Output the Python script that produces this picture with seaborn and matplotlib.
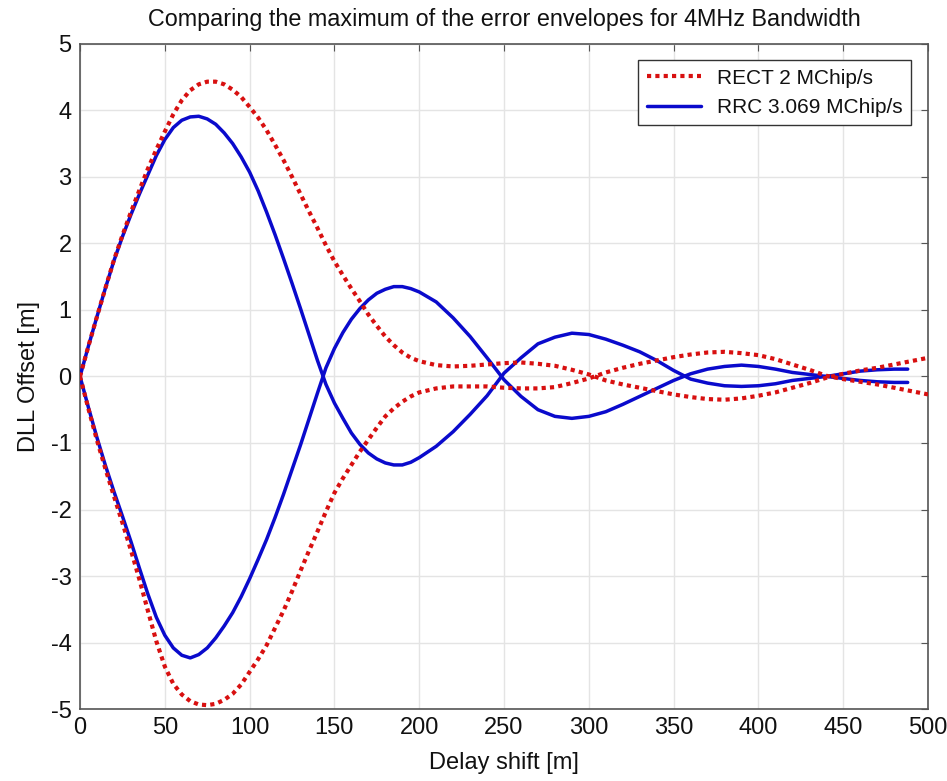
import matplotlib
matplotlib.use("Agg")
import matplotlib.pyplot as plt
import seaborn as sns

# Delay shift grid [m]: 5 m steps where the curves bend a lot, 10 m after
x_rect = list(range(0, 200, 5)) + list(range(200, 501, 10))
x_rrc = list(range(0, 200, 5)) + list(range(200, 481, 10)) + [488]

# RECT 2 MChip/s envelopes
rect_upper = [0.00, 0.46, 0.90, 1.33, 1.75, 2.12, 2.47, 2.80, 3.12, 3.41,
              3.68, 3.94, 4.15, 4.30, 4.39, 4.43, 4.43, 4.39, 4.31, 4.20,
              4.05, 3.89, 3.70, 3.48, 3.25, 3.00, 2.74, 2.48, 2.23, 1.97,
              1.73, 1.52, 1.32, 1.13, 0.93, 0.76, 0.60, 0.47, 0.36, 0.28,
              0.23, 0.17, 0.15, 0.16, 0.18, 0.20, 0.21, 0.19, 0.16, 0.10,
              0.03, -0.06, -0.12, -0.17, -0.22, -0.27, -0.31, -0.34, -0.35, -0.33,
              -0.29, -0.24, -0.17, -0.10, -0.02, 0.04, 0.09, 0.13, 0.18, 0.23,
              0.28]
rect_lower = [0.00, -0.49, -0.96, -1.39, -1.80, -2.20, -2.61, -3.05, -3.52, -3.98,
              -4.36, -4.62, -4.78, -4.88, -4.93, -4.94, -4.92, -4.86, -4.77, -4.63,
              -4.44, -4.25, -4.04, -3.78, -3.52, -3.23, -2.92, -2.62, -2.33, -2.03,
              -1.75, -1.53, -1.33, -1.13, -0.95, -0.77, -0.60, -0.48, -0.38, -0.30,
              -0.24, -0.18, -0.15, -0.15, -0.15, -0.17, -0.18, -0.18, -0.16, -0.10,
              -0.03, 0.06, 0.13, 0.19, 0.24, 0.29, 0.33, 0.36, 0.37, 0.35,
              0.32, 0.26, 0.18, 0.10, 0.01, -0.04, -0.08, -0.12, -0.17, -0.22,
              -0.27]

# RRC 3.069 MChip/s envelopes
rrc_upper = [0.00, 0.46, 0.90, 1.33, 1.74, 2.10, 2.43, 2.74, 3.03, 3.32,
             3.56, 3.74, 3.85, 3.90, 3.91, 3.87, 3.79, 3.66, 3.50, 3.30,
             3.07, 2.79, 2.47, 2.13, 1.77, 1.40, 1.02, 0.63, 0.24, -0.12,
             -0.40, -0.63, -0.85, -1.02, -1.15, -1.24, -1.30, -1.33, -1.33, -1.29,
             -1.22, -1.05, -0.83, -0.57, -0.29, 0.05, 0.28, 0.49, 0.59, 0.65,
             0.63, 0.56, 0.47, 0.37, 0.24, 0.09, -0.04, -0.10, -0.14, -0.15,
             -0.14, -0.11, -0.06, -0.03, 0.00, 0.04, 0.08, 0.10, 0.11, 0.11]
rrc_lower = [0.00, -0.47, -0.92, -1.34, -1.73, -2.10, -2.48, -2.88, -3.27, -3.62,
             -3.89, -4.08, -4.19, -4.23, -4.18, -4.08, -3.93, -3.75, -3.55, -3.31,
             -3.04, -2.75, -2.45, -2.12, -1.77, -1.40, -1.03, -0.64, -0.25, 0.13,
             0.42, 0.66, 0.86, 1.02, 1.15, 1.25, 1.31, 1.35, 1.35, 1.32,
             1.27, 1.12, 0.88, 0.60, 0.28, -0.05, -0.30, -0.50, -0.60, -0.63,
             -0.60, -0.53, -0.42, -0.30, -0.18, -0.06, 0.04, 0.11, 0.15, 0.17,
             0.15, 0.11, 0.06, 0.03, 0.00, -0.03, -0.06, -0.08, -0.09, -0.09]

sns.set_style("whitegrid")
plt.rcParams['font.family'] = ['Liberation Sans', 'DejaVu Sans']
plt.rcParams['axes.unicode_minus'] = False

fig = plt.figure(figsize=(9.47, 7.81), dpi=100)
ax = fig.add_axes([0.0845, 0.092, 0.8955, 0.852])

red = '#d81010'
blue = '#0a0acc'

# red dotted lines sit on top of the blue ones
sns.lineplot(x=x_rect, y=rect_upper, ax=ax, color=red, lw=3,
             linestyle=(0, (1, 1)), label='RECT 2 MChip/s', zorder=4)
sns.lineplot(x=x_rrc, y=rrc_upper, ax=ax, color=blue, lw=2.5,
             label='RRC 3.069 MChip/s', zorder=3)
sns.lineplot(x=x_rect, y=rect_lower, ax=ax, color=red, lw=3,
             linestyle=(0, (1, 1)), zorder=4)
sns.lineplot(x=x_rrc, y=rrc_lower, ax=ax, color=blue, lw=2.5, zorder=3)

ax.set_xlim(0, 500)
ax.set_ylim(-5, 5)
ax.set_xticks(range(0, 501, 50))
ax.set_yticks(range(-5, 6, 1))
ax.grid(True, color='#e4e4e4', lw=1)
for s in ax.spines.values():
    s.set_color('#555555')
    s.set_linewidth(1.2)
ax.tick_params(direction='in', length=5, labelsize=17, color='#555555',
               labelcolor='#111111', top=True, right=True, pad=6)

ax.set_title('Comparing the maximum of the error envelopes for 4MHz Bandwidth',
             fontsize=16.8, pad=13, color='#111111')
ax.set_xlabel('Delay shift [m]', fontsize=17, labelpad=9, color='#111111')
ax.set_ylabel('DLL Offset [m]', fontsize=17, labelpad=8, color='#111111')

leg = ax.legend(loc='upper right', fontsize=15, frameon=True, fancybox=False,
                edgecolor='#333333', framealpha=1, borderaxespad=0.8,
                handlelength=2.6)
leg.get_frame().set_linewidth(1.0)
for t in leg.get_texts():
    t.set_color('#111111')

fig.savefig('out.png', dpi=100)
